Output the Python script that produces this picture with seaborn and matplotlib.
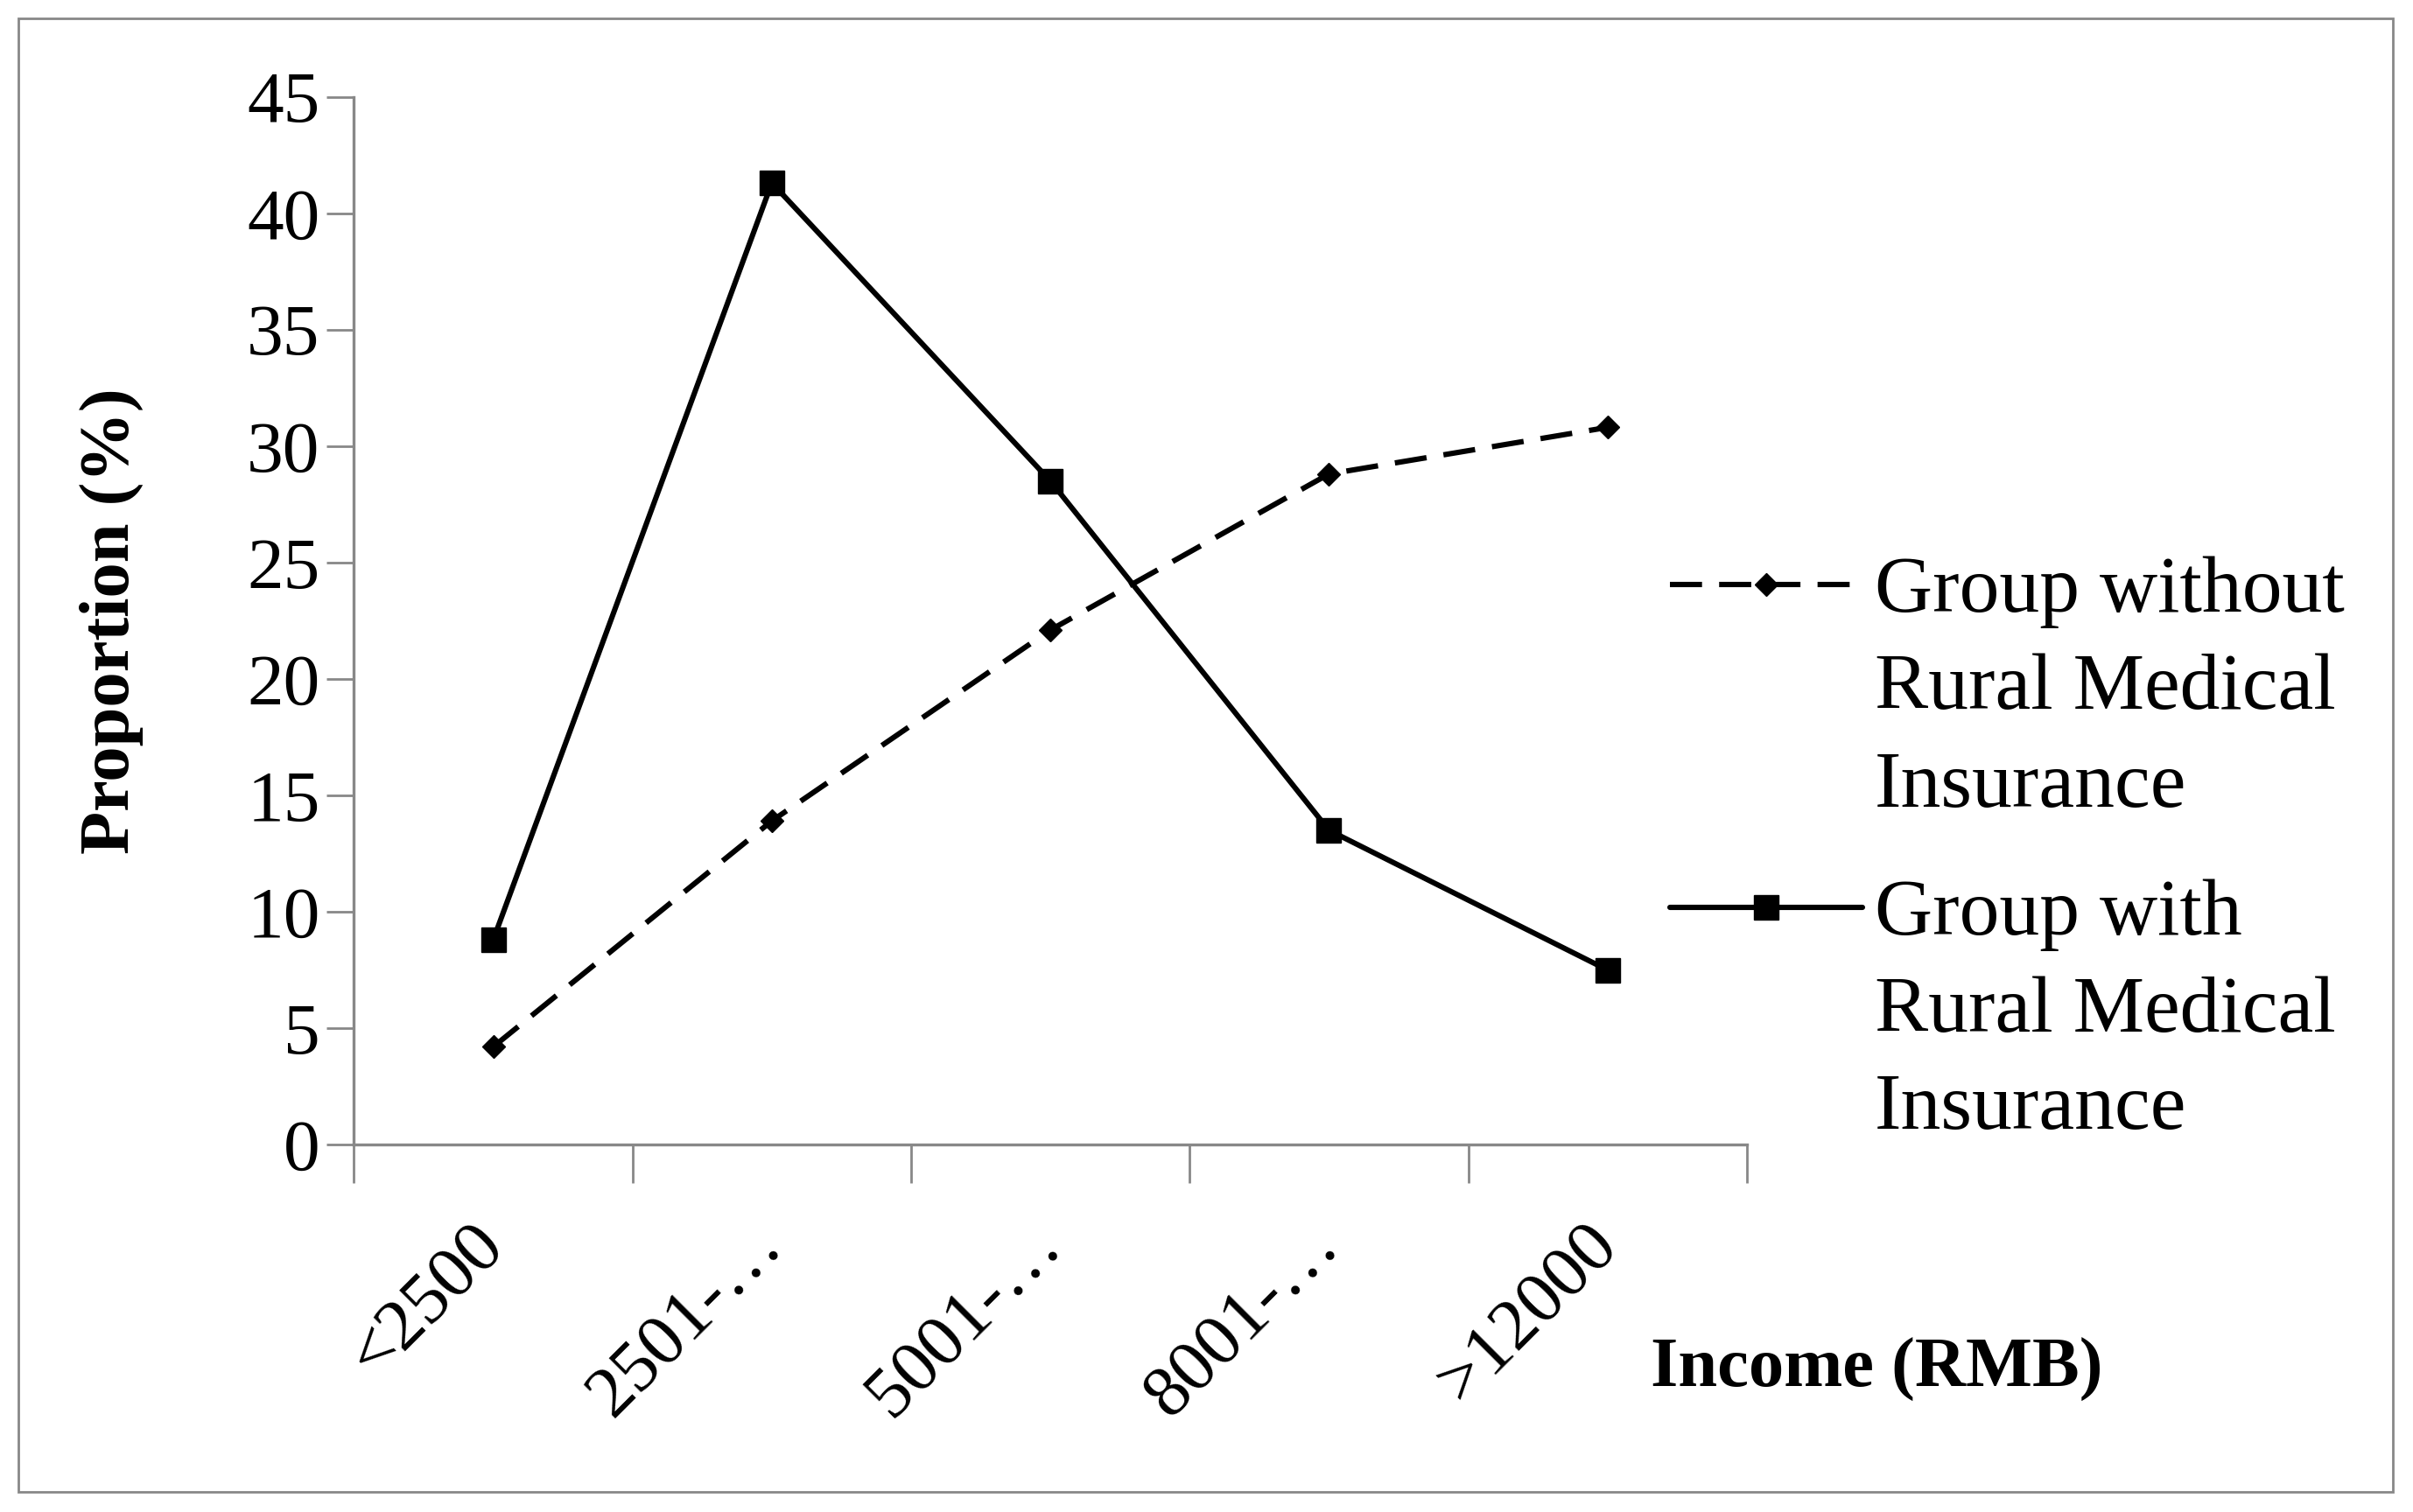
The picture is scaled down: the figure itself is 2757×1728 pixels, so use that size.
import numpy as np
import pandas as pd
import matplotlib
matplotlib.use("Agg")
import matplotlib.pyplot as plt
from matplotlib.patches import Rectangle
import seaborn as sns

# values
income_groups = ["<2500", "2501-\u2026", "5001-\u2026", "8001-\u2026", ">12000"]
without_insurance = [4.2, 13.9, 22.1, 28.8, 30.8]
with_insurance = [8.8, 41.3, 28.5, 13.5, 7.5]
y_ticks = [0, 5, 10, 15, 20, 25, 30, 35, 40, 45]

label_without = "Group without\nRural Medical\nInsurance"
label_with = "Group with\nRural Medical\nInsurance"


def main():
    sns.set_style("white")
    plt.rcParams["font.family"] = ["Liberation Serif", "DejaVu Serif"]
    plt.rcParams["text.color"] = "black"
    plt.rcParams["axes.labelcolor"] = "black"

    gray = "#888888"
    fig = plt.figure(figsize=(13.785, 8.64), dpi=200)
    ax = fig.add_axes([0.1467, 0.243, 0.5772, 0.693])

    pos = np.arange(len(income_groups))
    df = pd.DataFrame({"pos": pos, "without": without_insurance, "with": with_insurance})

    sns.lineplot(data=df, x="pos", y="without", ax=ax, color="black",
                 linewidth=2.2, linestyle=(0, (6, 3.2)), marker="D", markersize=6.5,
                 markeredgewidth=0.5, markeredgecolor="black", label=label_without)
    sns.lineplot(data=df, x="pos", y="with", ax=ax, color="black",
                 linewidth=2.2, linestyle="-", marker="s", markersize=10,
                 markeredgewidth=0.5, markeredgecolor="black", label=label_with)

    ax.set_xlim(-0.5, len(income_groups) - 0.5)
    ax.set_ylim(0, 45)
    ax.set_yticks(y_ticks)

    # tick marks at category boundaries, labels at category centres
    ax.set_xticks(np.arange(-0.5, len(income_groups), 1.0))
    ax.set_xticklabels([])
    ax.set_xticks(pos, minor=True)
    ax.set_xticklabels(income_groups, minor=True, rotation=45, ha="right",
                       va="center", rotation_mode="anchor", fontsize=30)

    ax.tick_params(axis="x", which="major", direction="out", length=16,
                   width=1.0, color=gray, bottom=True)
    ax.tick_params(axis="x", which="minor", length=0, pad=37, labelcolor="black")
    ax.tick_params(axis="y", direction="out", length=11, width=1.0,
                   color=gray, left=True, pad=3, labelsize=30, labelcolor="black")

    for side in ["top", "right"]:
        ax.spines[side].set_visible(False)
    for side in ["left", "bottom"]:
        ax.spines[side].set_color(gray)
        ax.spines[side].set_linewidth(1.2)

    ax.set_xlabel("")
    ax.set_ylabel("Proportion (%)", fontsize=29, fontweight="bold")
    ax.yaxis.set_label_coords(-0.151, 0.5)
    fig.text(0.684, 0.094, "Income (RMB)", fontsize=29, fontweight="bold",
             ha="left", va="center")

    leg = ax.legend(loc="upper left", bbox_to_anchor=(0.692, 0.632),
                    bbox_transform=fig.transFigure, frameon=False, fontsize=33,
                    handlelength=2.4, handletextpad=0.15, labelspacing=0.7,
                    borderpad=0, borderaxespad=0)
    for t in leg.get_texts():
        t.set_linespacing(1.45)
    # put the legend handle next to the first line of each label
    for col in leg._legend_handle_box.get_children():
        for row in col.get_children():
            row.align = "top"

    fig.patches.append(Rectangle((0.0077, 0.0132), 0.984, 0.9746,
                                 transform=fig.transFigure, fill=False,
                                 edgecolor=gray, linewidth=1.0))

    fig.savefig("out.png", dpi=200)


if __name__ == "__main__":
    main()
